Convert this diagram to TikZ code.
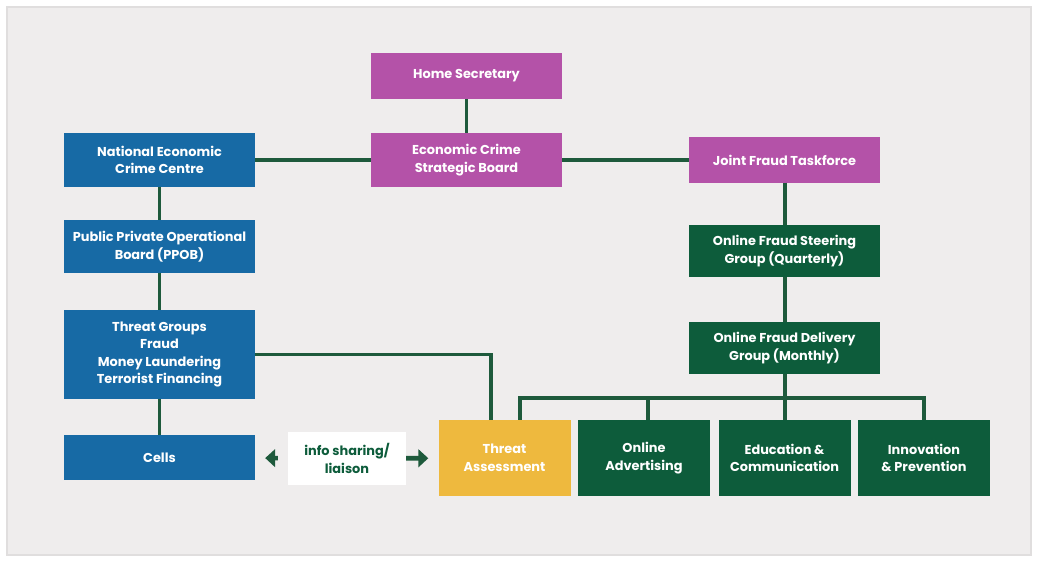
\documentclass[tikz,border=0pt]{standalone}
\usepackage{fontspec}
\setmainfont{Poppins}
\usetikzlibrary{arrows.meta}
\definecolor{necblue}{HTML}{176AA5}
\definecolor{hopurple}{HTML}{B452A8}
\definecolor{ofgreen}{HTML}{0D5C3B}
\definecolor{tayellow}{HTML}{EEB93E}
\definecolor{linkgreen}{HTML}{1E5A3C}
\definecolor{panelgrey}{HTML}{EFEDED}
\definecolor{edgegrey}{HTML}{E0DEDE}

\tikzset{
  orgbox/.style={rectangle,inner sep=1pt,align=center,text=white,
    font=\bfseries\fontsize{11}{15}\selectfont,minimum width=5.73cm},
  bluebox/.style={orgbox,fill=necblue},
  purplebox/.style={orgbox,fill=hopurple},
  greenbox/.style={orgbox,fill=ofgreen},
  workbox/.style={orgbox,minimum width=3.96cm,minimum height=2.28cm},
  link/.style={draw=linkgreen,line width=3.4pt},
  infoarrow/.style={draw=linkgreen,line width=4pt,-{Triangle[length=8.5pt,width=15pt]}}
}

\begin{document}
\begin{tikzpicture}[x=0.03cm,y=-0.03cm]
  \useasboundingbox (0,0) rectangle (1038,563);
  \filldraw[fill=panelgrey,draw=edgegrey,line width=1pt] (7,7) rectangle (1031,555);

  \node[purplebox,minimum height=1.38cm] (home) at (466.5,76) {Home Secretary};
  \node[purplebox,minimum height=1.62cm] (ecsb) at (466.5,160) {Economic Crime\\Strategic Board};
  \node[purplebox,minimum height=1.35cm] (jft) at (784.5,160) {Joint Fraud Taskforce};

  \node[bluebox,minimum height=1.59cm] (necc) at (159.5,160) {National Economic\\Crime Centre};
  \node[bluebox,minimum height=1.59cm] (ppob) at (159.5,246.5) {Public Private Operational\\Board (PPOB)};
  \node[bluebox,minimum height=2.67cm] (tg) at (159.5,354.5) {Threat Groups\\Fraud\\Money Laundering\\Terrorist Financing};
  \node[bluebox,minimum height=1.35cm] (cells) at (159.5,457.5) {Cells};

  \node[greenbox,minimum height=1.56cm] (ofs) at (784.5,251) {Online Fraud Steering\\Group (Quarterly)};
  \node[greenbox,minimum height=1.56cm] (ofd) at (784.5,348) {Online Fraud Delivery\\Group (Monthly)};

  \node[workbox,fill=tayellow] (ta) at (504.5,458) {Threat\\Assessment};
  \node[workbox,fill=ofgreen] (oa) at (644,458) {Online\\Advertising};
  \node[workbox,fill=ofgreen] (edu) at (784.5,458) {Education \&\\Communication};
  \node[workbox,fill=ofgreen] (inno) at (924,458) {Innovation\\\& Prevention};

  \node[orgbox,fill=white,text=ofgreen,minimum width=3.54cm,minimum height=1.59cm] (info) at (347,458.5) {info sharing/\\liaison};

  \coordinate (tgdrop) at (491,420);
  \coordinate (busl) at (520,398);
  \coordinate (busr) at (924,398);
  \coordinate (oadrop) at (648,398);

  \draw[link] (home) -- (ecsb);
  \draw[link] (necc) -- (ecsb);
  \draw[link] (ecsb) -- (jft);
  \draw[link] (necc) -- (ppob);
  \draw[link] (ppob) -- (tg);
  \draw[link] (tg) -- (cells);
  \draw[link] (jft) -- (ofs);
  \draw[link] (ofs) -- (ofd);
  \draw[link] (tg.east) -| (tgdrop);
  \draw[link] (ofd) -- (edu);
  \draw[link] (busl |- ta.north) -- (busl) -- (busr) -- (inno.north);
  \draw[link] (oadrop) -- (oadrop |- oa.north);

  \draw[infoarrow,shorten <=8.5pt,shorten >=8.5pt] (info) -- (cells);
  \draw[infoarrow,shorten <=0pt,shorten >=8.5pt] (info) -- (ta);
\end{tikzpicture}
\end{document}
